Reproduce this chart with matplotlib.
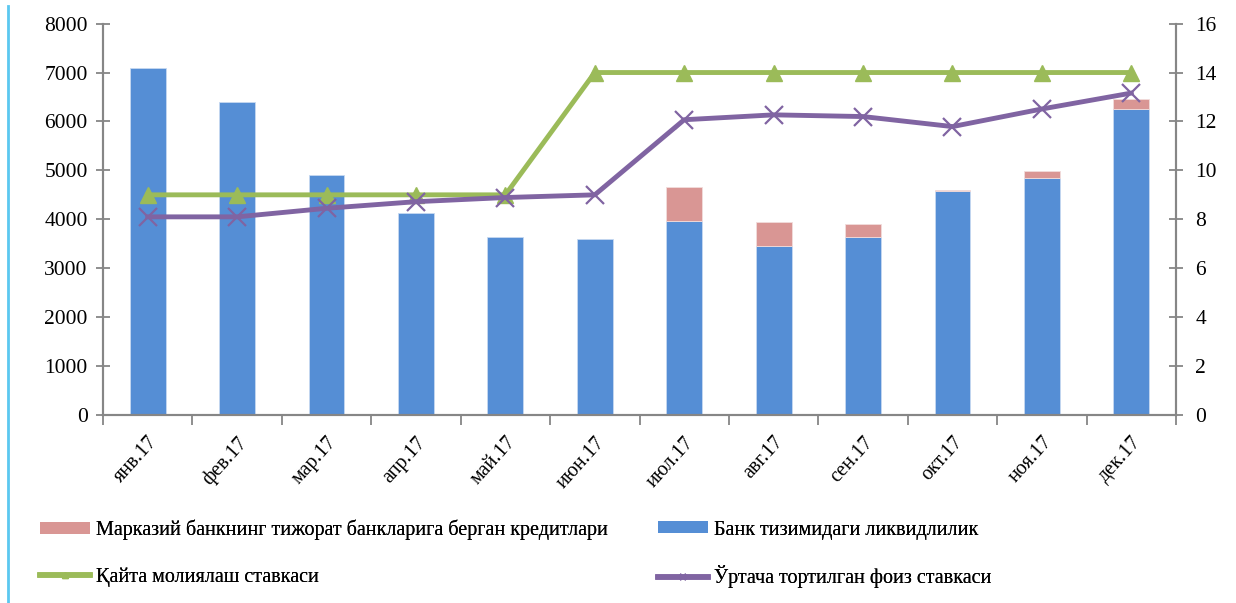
import matplotlib
matplotlib.use("Agg")
import matplotlib.pyplot as plt
from matplotlib.lines import Line2D
from matplotlib.patches import Patch

plt.rcParams['font.family'] = ['Liberation Serif', 'DejaVu Serif']

months = ["янв.17", "фев.17", "мар.17", "апр.17", "май.17", "июн.17",
          "июл.17", "авг.17", "сен.17", "окт.17", "ноя.17", "дек.17"]
liquidity = [7090, 6395, 4908, 4137, 3634, 3593, 3967, 3462, 3634, 4581, 4853, 6258]
cb_credits = [0, 0, 0, 0, 0, 0, 700, 480, 272, 26, 137, 198]
refinancing_rate = [9, 9, 9, 9, 9, 14, 14, 14, 14, 14, 14, 14]
weighted_rate = [8.1, 8.1, 8.45, 8.72, 8.89, 9.0, 12.07, 12.27, 12.2, 11.79, 12.51, 13.16]

lbl_credits = "Марказий банкнинг тижорат банкларига берган кредитлари"
lbl_liq = "Банк тизимидаги ликвидлилик"
lbl_refi = "Қайта молиялаш ставкаси"
lbl_wavg = "Ўртача тортилган фоиз ставкаси"

c_blue = "#558ED5"
c_pink = "#D99694"
c_green = "#9BBB59"
c_purple = "#8064A2"
c_axis = "#868686"
fs = 14.5
fs_tick = 15.5

W, H = 1236, 603
fig = plt.figure(figsize=(W / 100, H / 100), dpi=100)
ax = fig.add_axes([103 / W, 1 - 415 / H, (1176 - 103) / W, (415 - 23.6) / H])
ax2 = ax.twinx()

x = list(range(len(months)))
ax.bar(x, liquidity, width=0.4, color=c_blue, edgecolor="#C6D9F1", linewidth=0.6, zorder=2)
pink_lw = [0.6 if v > 0 else 0 for v in cb_credits]
ax.bar(x, cb_credits, width=0.4, bottom=liquidity, color=c_pink, edgecolor="#F2DCDB",
       linewidth=pink_lw, zorder=2)

ax2.plot(x, refinancing_rate, color=c_green, lw=3.5, marker="^", markersize=12,
         markeredgecolor=c_green, zorder=3)
ax2.plot(x, weighted_rate, color=c_purple, lw=3.5, marker="x", markersize=13,
         markeredgewidth=1.6, zorder=4)

ax.set_xlim(-0.5, len(months) - 0.5)
ax.set_ylim(0, 8000)
ax2.set_ylim(0, 16)
ax.set_yticks(range(0, 8001, 1000))
ax2.set_yticks(range(0, 17, 2))

ax.set_xticks([i - 0.5 for i in range(len(months) + 1)])
ax.set_xticklabels([])
ax.set_xticks(x, minor=True)
ax.set_xticklabels(months, minor=True, rotation=48, ha="right", rotation_mode="anchor",
                   fontsize=fs)
ax.tick_params(axis="x", which="minor", length=0, pad=13)
ax.tick_params(axis="x", which="major", direction="out", length=7, width=1.3, color=c_axis)
ax.tick_params(axis="y", direction="inout", length=10, width=1.3, color=c_axis,
               labelsize=fs_tick, pad=6)
ax2.tick_params(axis="y", direction="inout", length=10, width=1.3, color=c_axis,
                labelsize=fs_tick, pad=9)

for a in (ax, ax2):
    a.spines["top"].set_visible(False)
    for s in ("left", "right", "bottom"):
        a.spines[s].set_color(c_axis)
        a.spines[s].set_linewidth(1.5)

entries = [
    (Patch(facecolor=c_pink, edgecolor="none"), lbl_credits, 40, 530),
    (Patch(facecolor=c_blue, edgecolor="none"), lbl_liq, 658, 530),
    (Line2D([], [], color=c_green, lw=4, marker="^", markersize=4), lbl_refi, 40, 577),
    (Line2D([], [], color=c_purple, lw=4, marker="x", markersize=4, markeredgewidth=1.5),
     lbl_wavg, 658, 577),
]
for h, lab, px, py in entries:
    lg = fig.legend([h], [lab], loc="center left", bbox_to_anchor=(px / W, 1 - py / H),
                    frameon=False, fontsize=fs, handlelength=2.5, handleheight=0.55,
                    handletextpad=0.3, borderpad=0, borderaxespad=0)
    fig.add_artist(lg)

fig.add_artist(Line2D([7.5 / W, 7.5 / W], [0, 1 - 6 / H], color="#5BC8F0", lw=2))

fig.savefig("out.png", dpi=100)
